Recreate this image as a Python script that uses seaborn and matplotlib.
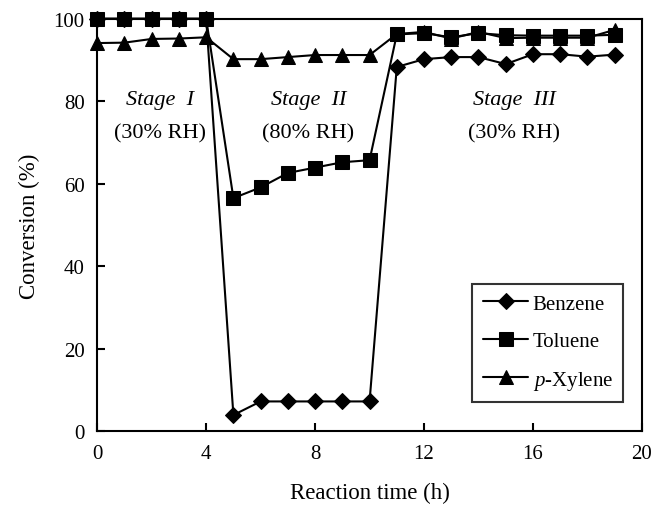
import matplotlib
matplotlib.use("Agg")
import matplotlib.pyplot as plt
import seaborn as sns
import pandas as pd

hours = list(range(20))
benzene = [100, 100, 100, 100, 100, 3.9, 7.2, 7.2, 7.2, 7.2, 7.2,
           88.3, 90.2, 90.7, 90.7, 89.0, 91.4, 91.4, 90.8, 91.3]
toluene = [100, 100, 100, 100, 100, 56.5, 59.1, 62.6, 63.9, 65.2, 65.7,
           96.2, 96.5, 95.5, 96.5, 96.0, 95.9, 95.9, 95.9, 96.1]
xylene = [94.1, 94.2, 95.1, 95.2, 95.5, 90.2, 90.2, 90.7, 91.2, 91.2, 91.2,
          96.3, 96.8, 95.2, 96.8, 95.3, 95.4, 95.4, 95.4, 97.3]
series_names = ["Benzene", "Toluene", "$p$-Xylene"]

sns.set_theme(style="ticks")
plt.rcParams['font.family'] = ['Liberation Serif', 'DejaVu Serif']
plt.rcParams['mathtext.fontset'] = 'custom'
plt.rcParams['mathtext.it'] = 'Liberation Serif:italic'
plt.rcParams['mathtext.rm'] = 'Liberation Serif'
plt.rcParams['text.color'] = 'black'
plt.rcParams['axes.labelcolor'] = 'black'
plt.rcParams['xtick.color'] = 'black'
plt.rcParams['ytick.color'] = 'black'

df = pd.DataFrame({
    "Reaction time (h)": hours * 3,
    "Conversion (%)": benzene + toluene + xylene,
    "series": [series_names[0]] * 20 + [series_names[1]] * 20 + [series_names[2]] * 20,
})

fig = plt.figure(figsize=(6.57, 5.06), dpi=100)
ax = fig.add_axes([0.148, 0.146, 0.829, 0.815])

markers = {series_names[0]: "D", series_names[1]: "s", series_names[2]: "^"}
sizes = {series_names[0]: 8, series_names[1]: 10, series_names[2]: 10}
for name in series_names:
    sub = df[df["series"] == name]
    sns.lineplot(data=sub, x="Reaction time (h)", y="Conversion (%)", ax=ax,
                 color="black", marker=markers[name], markersize=sizes[name],
                 markeredgecolor="black", linewidth=1.5, label=name,
                 clip_on=False,
                 zorder=3 if name != series_names[1] else 4)

ax.set_xlim(0, 20)
ax.set_ylim(0, 100)
ax.set_xticks([0, 4, 8, 12, 16, 20])
ax.set_yticks([0, 20, 40, 60, 80, 100])
ax.tick_params(direction="in", length=6, width=1.5, labelsize=15, pad=9)
for s in ax.spines.values():
    s.set_linewidth(1.5)
    s.set_color("black")
ax.set_xlabel("Reaction time (h)", fontsize=16.5, labelpad=14)
ax.set_ylabel("Conversion (%)", fontsize=16.5, labelpad=10)

fs = 16
ax.text(2.3, 80.5, "Stage  I", style="italic", fontsize=fs, ha="center", va="center")
ax.text(2.3, 72.3, "(30% RH)", fontsize=fs, ha="center", va="center")
ax.text(7.75, 80.5, "Stage  II", style="italic", fontsize=fs, ha="center", va="center")
ax.text(7.75, 72.3, "(80% RH)", fontsize=fs, ha="center", va="center")
ax.text(15.3, 80.5, "Stage  III", style="italic", fontsize=fs, ha="center", va="center")
ax.text(15.3, 72.3, "(30% RH)", fontsize=fs, ha="center", va="center")

leg = ax.legend(loc="lower right", bbox_to_anchor=(0.985, 0.045), fontsize=15,
                frameon=True, fancybox=False, edgecolor="black",
                handlelength=2.2, borderpad=0.5, labelspacing=0.85, handletextpad=0.2)
leg.get_frame().set_linewidth(1.5)

fig.savefig("out.png", dpi=100, facecolor="white")
